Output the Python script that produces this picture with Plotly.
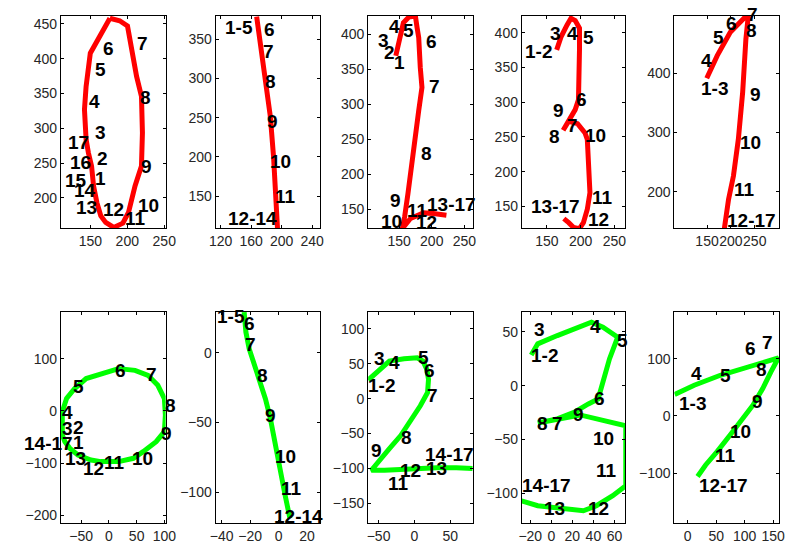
import plotly.graph_objects as go

# ---------------- data ----------------
# Panel 1 (red "0")
P1_LINE_X = [176.5, 189.7, 200.3, 206, 212.6, 219.2, 220.5, 219.2, 210.5, 201.6, 194, 181.7, 170.8, 164.2, 158.9, 154.4, 151.7, 147.4, 144.3, 142.1, 144.3, 150, 157.5, 176.5]
P1_LINE_Y = [458.2, 454.7, 447.1, 412.8, 374.6, 346, 293.4, 245.6, 217, 178.8, 163.5, 157.3, 164.5, 174, 193.1, 216.9, 245.6, 264.8, 283.8, 326.8, 360.2, 408, 422.3, 458.2]
P1_LABELS = ["6", "7", "5", "8", "4", "3", "17", "2", "16", "9", "1", "15", "14", "10", "13", "12", "11"]
P1_LABEL_X = [167.6, 212.6, 156.2, 217.1, 148.7, 156.2, 119.9, 158.9, 122, 217.9, 156.2, 115.2, 128.4, 214.9, 131.3, 166.5, 197.3]
P1_LABEL_Y = [415.3, 421.6, 384.5, 343.6, 338.7, 294.3, 279.1, 256.1, 250.4, 244.7, 227.5, 224.2, 209.8, 189.3, 185.9, 183.4, 170]

# Panel 2 (red "1")
P2_LINE_X = [167.2, 172.3, 178.7, 185.2, 189.4, 191.6, 194.6]
P2_LINE_Y = [378.8, 344.9, 302.3, 251.3, 200.3, 153.6, 108.9]
P2_LABELS = ["1-5", "6", "7", "8", "9", "10", "11", "12-14"]
P2_LABEL_X = [126, 177.5, 175.8, 178.8, 181, 185.2, 191.6, 129.5]
P2_LABEL_Y = [365.3, 362.8, 334.2, 296.8, 244.9, 193.9, 150.1, 121.7]

# Panel 3 (red "2")
P3_LINE_X = [144.9, 151.5, 156.5, 165, 174.9, 177.5, 180, 182.4, 185, 180, 174.9, 170, 163.5, 158.4, 155, 167.4, 187.5, 202.5, 222.5]
P3_LINE_Y = [369.2, 400, 416.5, 424.6, 426, 409.4, 395.2, 352.6, 324.1, 291, 253.1, 210.5, 172.7, 139.5, 123, 137.2, 145.2, 144.3, 141.9]
P3_LABELS = ["4", "5", "3", "6", "2", "1", "7", "8", "9", "11", "13-17", "10", "12"]
P3_LABEL_X = [135, 156.5, 117.5, 191.4, 127.5, 142.5, 196.5, 183.5, 136.5, 162.5, 192.5, 121.5, 176.4]
P3_LABEL_Y = [410.4, 405.7, 391.5, 389.6, 373.9, 359.6, 325.1, 230.4, 163.2, 148, 157.5, 132.4, 131]

# Panel 4 (red "3")
P4_LINE_X = [164.5, 171.2, 179.9, 185.7, 192, 198.3, 198.3, 196.8, 196.8, 192, 182.3, 174.1, 182.3, 195.4, 206.5, 209.9, 211.3, 213.8, 209.9, 204.1, 198.3, 189.6, 182.3, 175.1]
P4_LINE_Y = [375.2, 394.3, 411, 420.6, 417.2, 406.3, 375.2, 327.5, 303.6, 289.3, 272.5, 259.6, 272.5, 269.2, 255.9, 246.3, 208, 169.9, 146, 126.9, 118.3, 119.8, 126.9, 132.7]
P4_LABELS = ["3", "4", "5", "1-2", "6", "9", "7", "8", "10", "11", "13-17", "12"]
P4_LABEL_X = [154.8, 179.9, 204.1, 118.1, 193.5, 159.6, 179.9, 153.3, 206.5, 216.1, 125.8, 211.3]
P4_LABEL_Y = [399.1, 398.1, 393.4, 372.6, 303.2, 287.4, 265.9, 251, 252, 162.8, 149.9, 131.7]

# Panel 5 (red "7")
P5_LINE_X = [149.4, 171.4, 198.7, 229.5, 236.2, 231.5, 224.7, 215.7, 205.4, 195.2, 186.3]
P5_LINE_Y = [391.1, 429.2, 468.6, 493.9, 493.9, 457.3, 367.5, 288.7, 226.8, 187.5, 138.1]
P5_LABELS = ["7", "6", "8", "5", "4", "1-3", "9", "10", "11", "12-17"]
P5_LABEL_X = [233, 190.5, 231.5, 163.1, 137.1, 137.1, 239.9, 218.3, 206.8, 191.9]
P5_LABEL_Y = [481, 484.1, 471.1, 460.2, 420.7, 374.1, 364.4, 283.1, 204.4, 150.9]

# Panel 6 (green "0")
P6_LINE_X = [17.6, 47.1, 70.5, 88.2, 100, 101.8, 100, 85.2, 61.7, 44.1, 17.6, -14.6, -32.3, -55.9, -70.5, -79.4, -84.1, -84.1, -84.1, -76.4, -61.7, -41.1, -14.6, 17.6]
P6_LINE_Y = [81, 77.7, 68.2, 49.1, 23.8, -8, -39.6, -58.7, -77.7, -90.5, -96.8, -96.8, -93.7, -84.2, -71.4, -58.7, -46.1, -20.6, -1.5, 23.8, 42.9, 61.9, 71.4, 81]
P6_LABELS = ["6", "7", "5", "8", "4", "3", "2", "9", "14-17", "1", "13", "10", "11", "12"]
P6_LABEL_X = [10.1, 66.5, -64.7, 101.8, -85.1, -84.1, -64.7, 94, -65.3, -64.7, -79.4, 41, -8.8, -47.1]
P6_LABEL_Y = [77.7, 69.5, 46, 9.7, -2.9, -33.3, -32, -42.9, -61.9, -60.9, -90.5, -90.5, -98.1, -109.5]

# Panel 7 (green "1")
P7_LINE_X = [-24.2, -23, -20.7, -16.1, -12.7, -9.3, -5.8, -2.4, 1, 4.5, 7.9]
P7_LINE_Y = [29.1, 14.8, 2.9, -11.4, -20.9, -32.9, -47.1, -66.2, -85.2, -101.9, -118.6]
P7_LABELS = ["1-5", "6", "7", "8", "9", "10", "11", "12-14"]
P7_LABEL_X = [-43.6, -24.2, -23.7, -15, -9.3, -2.4, 1.5, -3.6]
P7_LABEL_Y = [26.2, 20.7, 5.7, -16.6, -45.2, -74.5, -97.1, -117.4]

# Panel 8 (green "2")
P8_LINE_X = [-64.5, -48.6, -34.9, -14.5, 3.7, 11.9, 17.3, 19.6, 18.3, 8.2, -3.1, -19.1, -34.9, -48.6, -60, -41.7, -19.1, 3.7, 31, 58.3, 81]
P8_LINE_Y = [26.7, 42, 53.8, 57.2, 58.6, 53.8, 42, 27.7, 8.8, -10.2, -29.2, -52.9, -71.8, -88.5, -102.7, -102.7, -101.3, -100.3, -99.3, -99.3, -100.3]
P8_LABELS = ["3", "4", "5", "6", "1-2", "7", "8", "9", "14-17", "12", "13", "10", "11"]
P8_LABEL_X = [-56.3, -34.9, 4.6, 12.8, -64.5, 17.3, -19.1, -60, 15, -19.9, 16.4, -65.5, -36.3]
P8_LABEL_Y = [57.2, 52.3, 58.6, 39.7, 18.3, 3.9, -55.2, -74.2, -80.4, -102.7, -100.3, -113.5, -121.6]

# Panel 9 (green "3")
P9_LINE_X = [-19.1, -12.9, 5.7, 21.2, 38.2, 49.1, 63.1, 55.3, 44.5, 35.2, 22.8, 5.7, -12.9, 27.4, 70.8, 70.8, 58.4, 42.9, 30.5, 5.7, -12.9, -28.4]
P9_LINE_Y = [28.5, 38.8, 46.5, 52.7, 58.9, 54.3, 45, 24.8, -12.4, -17, -24.2, -30.9, -34.7, -27.2, -37.2, -92.9, -102.2, -111.5, -116.2, -113.9, -111.5, -106.9]
P9_LABELS = ["3", "4", "5", "1-2", "6", "9", "8", "7", "10", "11", "14-17", "13", "12"]
P9_LABEL_X = [-16.9, 36.5, 62.1, -19.7, 40.5, 20.6, -13.6, 1, 39.8, 42.3, -27.9, -6.7, 35.2]
P9_LABEL_Y = [52, 55.2, 41.8, 27.9, -11.7, -27.2, -35.6, -35.6, -49.5, -79, -92.9, -113.9, -113.9]

# Panel 10 (green "7")
P10_LINE_X = [-23, 11.3, 57.2, 103.1, 131.6, 159.1, 146, 131.6, 114.4, 97.3, 74.4, 51.5, 31.4, 17.2]
P10_LINE_Y = [37.4, 53.6, 71, 85.6, 94.3, 101.2, 76.9, 47.8, 18.8, -4.3, -33.4, -62.3, -85.6, -105.7]
P10_LABELS = ["6", "7", "4", "5", "8", "1-3", "9", "10", "11", "12-17"]
P10_LABEL_X = [100.2, 130.6, 5.7, 56, 119.1, -16.2, 113.4, 74.4, 48.6, 19.9]
P10_LABEL_Y = [117.4, 127.8, 73.9, 69.9, 81.4, 21.7, 24.7, -26.4, -68.2, -121.4]

# tick values per panel
P1_XTICKS, P1_YTICKS = [150, 200, 250], [200, 250, 300, 350, 400, 450]
P2_XTICKS, P2_YTICKS = [120, 160, 200, 240], [150, 200, 250, 300, 350]
P3_XTICKS, P3_YTICKS = [150, 200, 250], [150, 200, 250, 300, 350, 400]
P4_XTICKS, P4_YTICKS = [150, 200, 250], [150, 200, 250, 300, 350, 400]
P5_XTICKS, P5_YTICKS = [150, 200, 250], [200, 300, 400]
P6_XTICKS, P6_YTICKS = [-50, 0, 50, 100], [-200, -100, 0, 100]
P7_XTICKS, P7_YTICKS = [-40, -20, 0, 20], [-100, -50, 0]
P8_XTICKS, P8_YTICKS = [-50, 0, 50], [-150, -100, -50, 0, 50, 100]
P9_XTICKS, P9_YTICKS = [-20, 0, 20, 40, 60], [-100, -50, 0, 50]
P10_XTICKS, P10_YTICKS = [0, 50, 100, 150], [-100, 0, 100]

# labels that sit at the edge of their axes (anchored differently so they stay visible)
LABEL_XANCHOR = {5: {"14-17": "right"}}      # panel index -> label -> xanchor
LABEL_YANCHOR = {4: {"7": "bottom"}}         # panel index -> label -> yanchor

# ---------------- layout config ----------------
WIN_W, WIN_H = 801, 552
PAD = 8  # page body margin
W, H = WIN_W - 2 * PAD, WIN_H - 2 * PAD
COLS = [(56, 163), (214, 321), (370, 477), (527, 633), (683, 790)]
ROWS = [(16, 229), (313, 525)]

RANGES = [
    ((110.3, 251.9), (156.3, 461.5)),
    ((113.2, 250.7), (109.2, 379.7)),
    ((102.5, 263.0), (123.4, 426.0)),
    ((112.8, 266.4), (118.9, 423.9)),
    ((81.6, 301.0), (138.8, 496.0)),
    ((-86.5, 102.3), (-214.3, 189.5)),
    ((-44.3, 29.2), (-122.1, 29.3)),
    ((-64.5, 81.4), (-178.5, 124.5)),
    ((-28.1, 70.5), (-127.6, 68.5)),
    ((-23.5, 160.3), (-187.0, 181.7)),
]

panels = [
    (P1_LINE_X, P1_LINE_Y, P1_LABELS, P1_LABEL_X, P1_LABEL_Y, P1_XTICKS, P1_YTICKS),
    (P2_LINE_X, P2_LINE_Y, P2_LABELS, P2_LABEL_X, P2_LABEL_Y, P2_XTICKS, P2_YTICKS),
    (P3_LINE_X, P3_LINE_Y, P3_LABELS, P3_LABEL_X, P3_LABEL_Y, P3_XTICKS, P3_YTICKS),
    (P4_LINE_X, P4_LINE_Y, P4_LABELS, P4_LABEL_X, P4_LABEL_Y, P4_XTICKS, P4_YTICKS),
    (P5_LINE_X, P5_LINE_Y, P5_LABELS, P5_LABEL_X, P5_LABEL_Y, P5_XTICKS, P5_YTICKS),
    (P6_LINE_X, P6_LINE_Y, P6_LABELS, P6_LABEL_X, P6_LABEL_Y, P6_XTICKS, P6_YTICKS),
    (P7_LINE_X, P7_LINE_Y, P7_LABELS, P7_LABEL_X, P7_LABEL_Y, P7_XTICKS, P7_YTICKS),
    (P8_LINE_X, P8_LINE_Y, P8_LABELS, P8_LABEL_X, P8_LABEL_Y, P8_XTICKS, P8_YTICKS),
    (P9_LINE_X, P9_LINE_Y, P9_LABELS, P9_LABEL_X, P9_LABEL_Y, P9_XTICKS, P9_YTICKS),
    (P10_LINE_X, P10_LINE_Y, P10_LABELS, P10_LABEL_X, P10_LABEL_Y, P10_XTICKS, P10_YTICKS),
]

TICK_FONT = dict(family="Liberation Sans, Arial, sans-serif", size=14, color="#262626")
LABEL_FONT = dict(family="Liberation Sans, Arial, sans-serif", size=19, color="black", weight="bold")

fig = go.Figure()
layout = dict(
    width=W, height=H,
    margin=dict(l=0, r=0, t=0, b=0, pad=0),
    paper_bgcolor="white", plot_bgcolor="white",
    showlegend=False,
    font=TICK_FONT,
)

axis_common = dict(
    showgrid=False, zeroline=False, showline=True, linecolor="black", linewidth=1,
    mirror="allticks", ticks="inside", ticklen=3, tickcolor="black",
    tickfont=TICK_FONT, fixedrange=True, tickangle=0,
)

annotations = []
for i, (lx, ly, labs, tx, ty, xt, yt) in enumerate(panels):
    r, c = divmod(i, 5)
    color = "#ff0000" if r == 0 else "#00ff00"
    n = "" if i == 0 else str(i + 1)
    xa, ya = "x" + n, "y" + n
    fig.add_trace(go.Scatter(x=lx, y=ly, mode="lines", xaxis=xa, yaxis=ya,
                             line=dict(color=color, width=5), hoverinfo="skip"))
    for t, x, y in zip(labs, tx, ty):
        annotations.append(dict(
            x=x, y=y, xref=xa, yref=ya, text=t, showarrow=False,
            xanchor=LABEL_XANCHOR.get(i, {}).get(t, "left"),
            yanchor=LABEL_YANCHOR.get(i, {}).get(t, "middle"),
            borderpad=0, borderwidth=0, font=LABEL_FONT))
    x0, x1 = COLS[c]
    y0, y1 = ROWS[r]
    xr, yr = RANGES[i]
    layout["xaxis" + n] = dict(axis_common, domain=[(x0 - PAD) / W, (x1 - PAD) / W],
                               range=list(xr), tickvals=xt, anchor=ya)
    layout["yaxis" + n] = dict(axis_common, domain=[1 - (y1 - PAD) / H, 1 - (y0 - PAD) / H],
                               range=list(yr), tickvals=yt, anchor=xa)

layout["annotations"] = annotations
fig.update_layout(**layout)
fig.write_html("out.html")
